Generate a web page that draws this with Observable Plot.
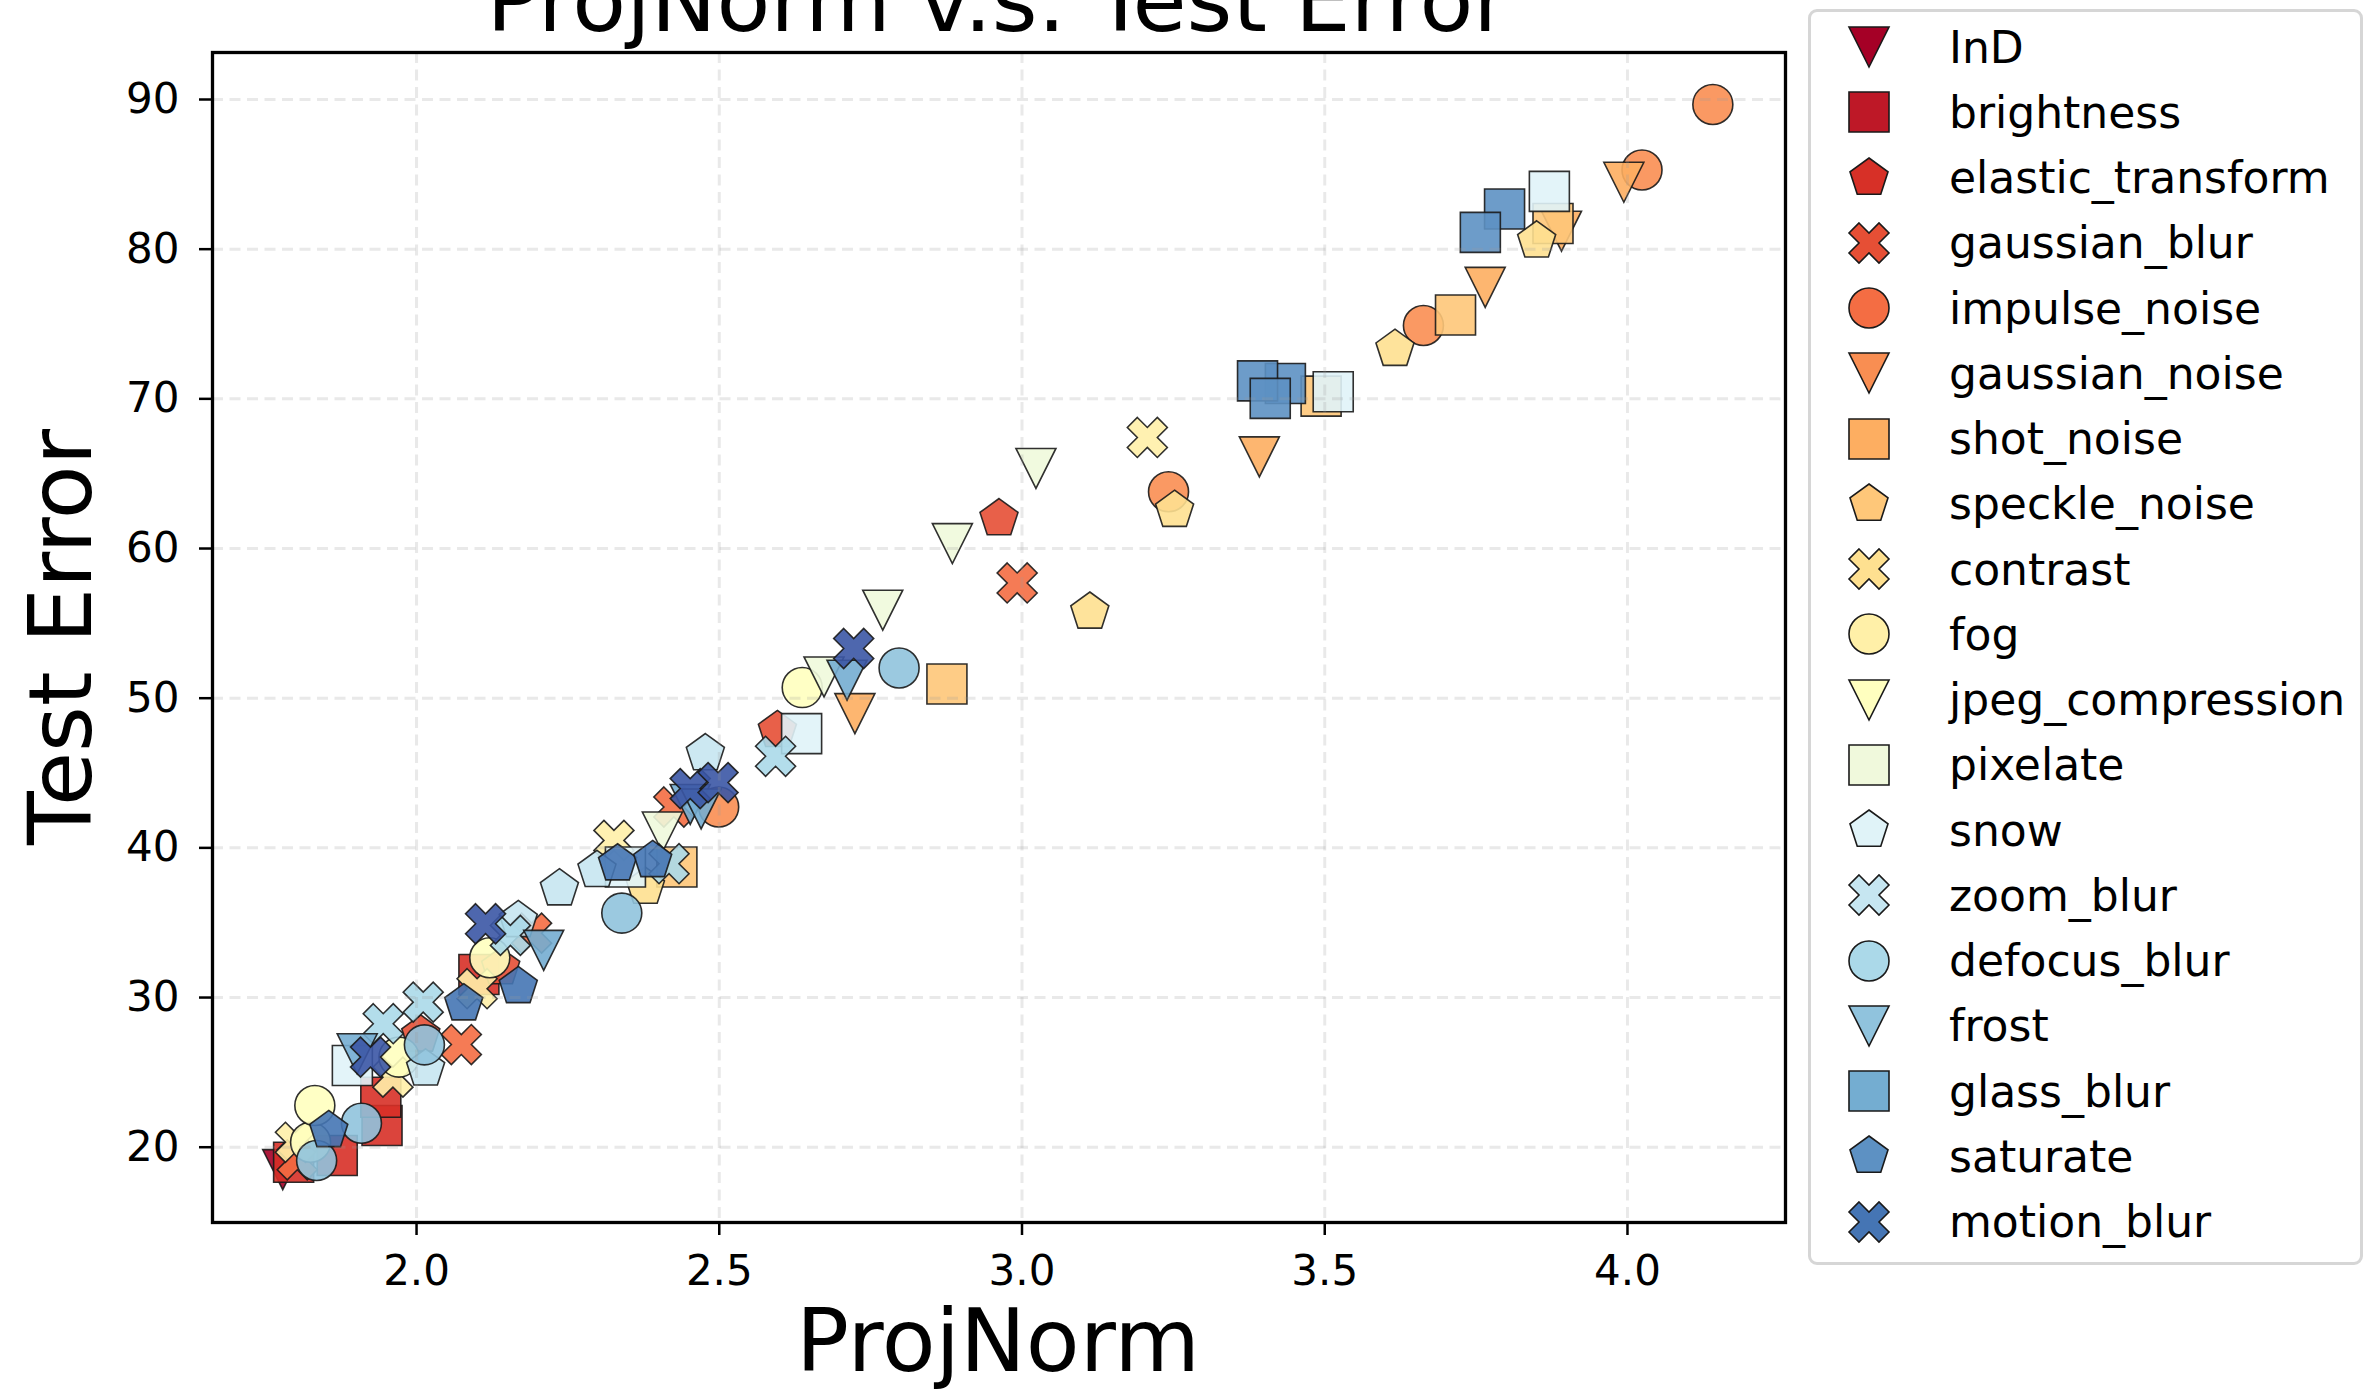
<!DOCTYPE html>
<html><head><meta charset="utf-8">
<script src="https://cdn.jsdelivr.net/npm/d3@7"></script>
<script src="https://cdn.jsdelivr.net/npm/@observablehq/plot@0.6"></script>
<style>
html,body{margin:0;padding:0;background:#fff;}
#wrap{position:relative;width:2372px;height:1395px;overflow:hidden;font-family:"DejaVu Sans",sans-serif;color:#000;}
#chart{position:absolute;left:0;top:0;}
.lbl{position:absolute;font-size:88px;line-height:88px;white-space:nowrap;}
#legend{position:absolute;left:1808px;top:9px;width:549px;height:1250px;border:3px solid #d6d6d6;border-radius:9px;background:#fff;}
.ltxt{position:absolute;left:138px;height:65px;line-height:65px;font-size:44px;white-space:nowrap;}
.lsym{position:absolute;left:33px;}
</style></head>
<body><div id="wrap">
<div id="chart"></div>
<div class="lbl" id="title" style="left:998px;top:-43px;transform:translateX(-50%);">ProjNorm v.s. Test Error</div>
<div class="lbl" id="xlabel" style="left:998px;top:1306px;line-height:70px;transform:translateX(-50%);">ProjNorm</div>
<div class="lbl" id="ylabel" style="left:61px;top:637px;transform:translate(-50%,-50%) rotate(-90deg);">Test Error</div>
<div id="legend"></div>
</div>
<script>
// ---------------- data ----------------
const categories = ["InD","brightness","elastic_transform","gaussian_blur","impulse_noise","gaussian_noise","shot_noise","speckle_noise","contrast","fog","jpeg_compression","pixelate","snow","zoom_blur","defocus_blur","frost","glass_blur","saturate","motion_blur"];
const markerShapes = ["triDown","square","pentagon","xFilled","circle","triDown","square","pentagon","xFilled","circle","triDown","square","pentagon","xFilled","circle","triDown","square","pentagon","xFilled"];
const xTicks = [2.0, 2.5, 3.0, 3.5, 4.0];
const yTicks = [20, 30, 40, 50, 60, 70, 80, 90];

const InD = [[1.779,18.5]];
const brightness = [[1.797,19.0],[1.869,19.45],[1.943,21.45],[1.941,23.34],[2.103,31.54]];
const elastic_transform = [[2.007,27.5],[2.139,32.0],[2.596,47.85],[2.962,62.0]];
const gaussian_blur = [[1.803,19.16],[2.074,26.86],[2.19,34.3],[2.425,42.73],[2.992,57.7]];
const impulse_noise = [[2.499,42.73],[3.242,63.79],[3.663,74.9],[4.024,85.29],[4.141,89.67]];
const gaussian_noise = [[2.724,48.97],[3.392,66.12],[3.765,77.45],[3.891,81.2],[3.994,84.47]];
const shot_noise = [[2.43,38.72],[2.876,50.95],[3.494,70.18],[3.716,75.6],[3.877,81.72]];
const speckle_noise = [[2.378,37.38],[3.112,55.76],[3.252,62.56],[3.616,73.32],[3.85,80.56]];
const contrast = [[1.80,20.33],[1.961,24.68],[2.10,30.59],[2.326,40.5],[3.207,67.42]];
const fog = [[1.825,20.33],[1.832,22.79],[1.971,26.02],[2.121,32.66],[2.637,50.71]];
const jpeg_compression = [[2.406,41.06],[2.673,51.42],[2.77,55.88],[2.885,60.33],[3.023,65.35]];
const pixelate = [[1.894,25.46],[2.345,38.72],[2.636,47.63],[3.514,70.47],[3.871,83.86]];
const snow = [[2.015,25.24],[2.168,35.15],[2.236,37.27],[2.298,38.5],[2.477,46.3]];
const zoom_blur = [[1.945,28.25],[2.011,29.69],[2.155,34.15],[2.417,38.94],[2.593,46.12]];
const defocus_blur = [[1.835,19.11],[1.909,21.6],[2.013,26.84],[2.339,35.64],[2.797,52.02]];
const frost = [[1.902,26.24],[2.21,33.15],[2.452,42.9],[2.47,42.6],[2.711,51.2]];
const glass_blur = [[3.435,71.03],[3.389,71.2],[3.41,70.03],[3.797,82.68],[3.757,81.12]];
const saturate = [[1.855,21.12],[2.078,29.59],[2.168,30.74],[2.332,38.94],[2.39,39.16]];
const motion_blur = [[1.924,26.02],[2.114,34.93],[2.452,43.96],[2.498,44.36],[2.722,53.32]];

const seriesPoints = [InD,brightness,elastic_transform,gaussian_blur,impulse_noise,gaussian_noise,shot_noise,speckle_noise,contrast,fog,jpeg_compression,pixelate,snow,zoom_blur,defocus_blur,frost,glass_blur,saturate,motion_blur];

// ---------------- colours (matplotlib RdYlBu) ----------------
const rdylbu = d3.piecewise(d3.interpolateRgb, ["#a50026","#d73027","#f46d43","#fdae61","#fee090","#ffffbf","#e0f3f8","#abd9e9","#74add1","#4575b4","#313695"]);
const legendColor = i => rdylbu(i / 20);
const pointColor = i => i === 0 ? rdylbu(0) : rdylbu((i + 1) / 20);

// ---------------- marker shapes (matplotlib-like) ----------------
function sym(fn){ return {draw(ctx, size){ const s = 2 * Math.sqrt(size / Math.PI); fn(ctx, s); }}; }
const xPath = [[0.25,0],[0.5,0.25],[0.75,0],[1,0.25],[0.75,0.5],[1,0.75],[0.75,1],[0.5,0.75],[0.25,1],[0,0.75],[0.25,0.5],[0,0.25]];
const symbols = {
  circle: sym((c,s)=>{ c.moveTo(s/2,0); c.arc(0,0,s/2,0,2*Math.PI); c.closePath(); }),
  square: sym((c,s)=>{ c.moveTo(-s/2,-s/2); c.lineTo(s/2,-s/2); c.lineTo(s/2,s/2); c.lineTo(-s/2,s/2); c.closePath(); }),
  triDown: sym((c,s)=>{ c.moveTo(0,s/2); c.lineTo(-s/2,-s/2); c.lineTo(s/2,-s/2); c.closePath(); }),
  pentagon: sym((c,s)=>{ for(let k=0;k<5;k++){ const a=-Math.PI/2+k*2*Math.PI/5; const px=Math.cos(a)*s/2, py=Math.sin(a)*s/2; k?c.lineTo(px,py):c.moveTo(px,py);} c.closePath(); }),
  xFilled: sym((c,s)=>{ xPath.forEach(([px,py],k)=>{ const X=(px-0.5)*s, Y=(py-0.5)*s; k?c.lineTo(X,Y):c.moveTo(X,Y); }); c.closePath(); })
};
const R = 20;

// ---------------- plot ----------------
const dotMarks = seriesPoints.map((pts, i) => Plot.dot(pts.map(([x,y]) => ({x, y, cat: categories[i]})), {
  x: "x", y: "y", r: R, symbol: symbols[markerShapes[i]],
  fill: pointColor(i), fillOpacity: 0.9, stroke: "#1a1a1a", strokeOpacity: 0.9, strokeWidth: 1.6
}));

const chart = Plot.plot({
  width: 1810, height: 1300,
  marginLeft: 212, marginRight: 25, marginTop: 52, marginBottom: 78,
  style: {fontFamily: "DejaVu Sans", background: "transparent", color: "#000"},
  x: {domain: [1.663, 4.261]},
  y: {domain: [14.97, 93.14]},
  marks: [
    ...dotMarks,
    Plot.gridX(xTicks, {stroke: "#999", strokeOpacity: 0.22, strokeWidth: 3, strokeDasharray: "11,6.5"}),
    Plot.gridY(yTicks, {stroke: "#999", strokeOpacity: 0.22, strokeWidth: 3, strokeDasharray: "11,6.5"}),
    Plot.frame({stroke: "#000", strokeWidth: 3.3}),
    Plot.axisX(xTicks, {tickFormat: d3.format(".1f"), tickSize: 13, tickPadding: 20, fontSize: 42, strokeWidth: 2.5, label: null, fill: "#000"}),
    Plot.axisY(yTicks, {tickSize: 13, tickPadding: 20, fontSize: 42, strokeWidth: 2.5, label: null, fill: "#000"})
  ]
});
document.getElementById("chart").appendChild(chart);

// ---------------- legend ----------------
const legend = document.getElementById("legend");
categories.forEach((name, i) => {
  const cy = 47 + 65.25 * i - 12; // centre relative to legend padding box
  const d = d3.symbol(symbols[markerShapes[i]], Math.PI * R * R)();
  const svg = d3.create("svg").attr("class","lsym").attr("width",50).attr("height",50)
    .attr("viewBox","-25 -25 50 50").style("top", (cy - 25) + "px");
  svg.append("path").attr("d", d).attr("fill", legendColor(i)).attr("stroke","#1a1a1a").attr("stroke-width",1.6);
  legend.appendChild(svg.node());
  const t = document.createElement("div");
  t.className = "ltxt"; t.textContent = name; t.style.top = (cy - 32.5) + "px";
  legend.appendChild(t);
});
</script>
</body></html>
